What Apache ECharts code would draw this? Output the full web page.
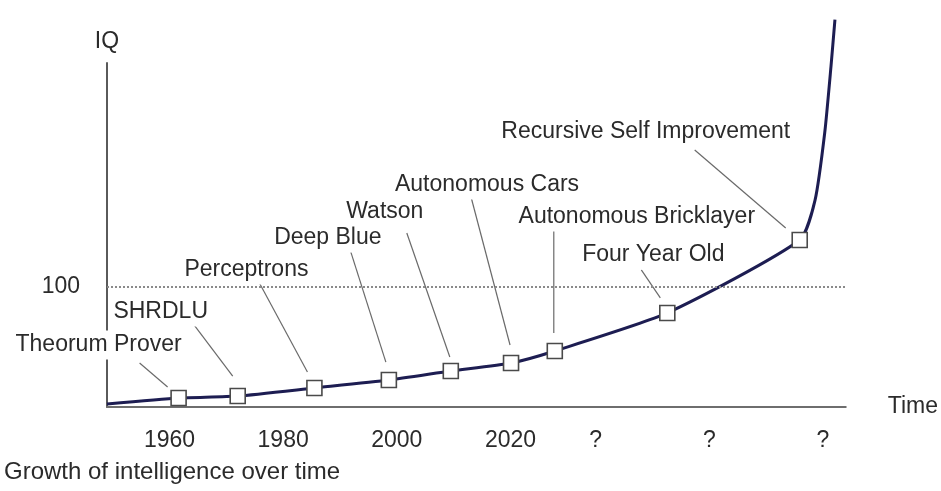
<!DOCTYPE html>
<html>
<head>
<meta charset="utf-8">
<title>Growth of intelligence over time</title>
<script src="https://cdn.jsdelivr.net/npm/echarts@6/dist/echarts.min.js"></script>
<style>
  html, body { margin: 0; padding: 0; background: #fff; }
  #chart { width: 941px; height: 491px; }
</style>
</head>
<body>
<div id="chart"></div>
<script>
// Milestones on the intelligence curve
const milestones = ['Theorum Prover', 'SHRDLU', 'Perceptrons', 'Deep Blue', 'Watson',
  'Autonomous Cars', 'Autonomous Bricklayer', 'Four Year Old', 'Recursive Self Improvement'];
const milestoneYears = [1961.6, 1972.0, 1985.5, 1998.6, 2009.5, 2020.1, 2027.8, 2047.6, 2070.9];
const milestoneIQ = [7.5, 9.1, 15.8, 22.4, 29.9, 36.6, 46.6, 78.2, 138.8];

// Start of the curve and its steep tail after self improvement
const headYears = [1949];
const headIQ = [2.5];
const tailYears = [2073.6, 2075.3, 2076.4, 2077.1];
const tailIQ = [172, 228, 283, 322];

// Time axis ticks
const tickYears = [1960, 1980, 2000, 2020, 2035, 2055, 2075];
const tickLabels = ['1960', '1980', '2000', '2020', '?', '?', '?'];

// Reference level
const humanIQ = 100;

// Label layout, in pixels relative to each milestone marker:
// label centre, leader end near the label, leader end near the marker
const labelOffset = [[-80, -53], [-77, -84], [-68, -118], [-61, -142], [-66, -159],
  [-24, -178], [82, -134], [-14, -58], [-154, -108]];
const leaderFar = [[-39, -35], [-45, -73], [-55, -105], [-38, -128], [-44, -138],
  [-40, -166], [-1, -121], [-26, -43], [-105, -90]];
const leaderNear = [[-11, -11], [-5, -20], [-7, -16], [-3, -18], [-1, -14],
  [-1, -18], [-1, -18], [-7, -15], [-14, -12]];

const FONT = '"Liberation Sans", Arial, sans-serif';
const TEXT = '#2b2b2b';

const curve = headYears.map((x, i) => [x, headIQ[i]])
  .concat(milestoneYears.map((x, i) => [x, milestoneIQ[i]]))
  .concat(tailYears.map((x, i) => [x, tailIQ[i]]));
const points = milestoneYears.map((x, i) => [x, milestoneIQ[i], milestones[i]]);

const chart = echarts.init(document.getElementById('chart'));
chart.setOption({
  animation: false,
  backgroundColor: '#fff',
  title: {
    text: 'Growth of intelligence over time',
    left: 4, top: 460, padding: 0,
    textStyle: { fontFamily: FONT, fontSize: 24, fontWeight: 'normal', color: TEXT }
  },
  grid: { left: 107, right: 93, top: 63, bottom: 84 },
  xAxis: {
    type: 'value', min: 1949, max: 2079,
    name: 'Time', nameLocation: 'end', nameGap: 42,
    nameTextStyle: { fontFamily: FONT, fontSize: 23, color: TEXT, verticalAlign: 'middle', padding: [8, 0, 0, 0] },
    axisLine: { show: true, lineStyle: { color: '#6e6e6e', width: 2 } },
    axisTick: { show: false },
    splitLine: { show: false },
    axisLabel: {
      customValues: tickYears,
      formatter: v => tickLabels[tickYears.indexOf(v)],
      margin: 22, fontFamily: FONT, fontSize: 23, color: TEXT
    }
  },
  yAxis: {
    type: 'value', min: 0, max: 286,
    name: 'IQ', nameLocation: 'end', nameGap: 10,
    nameTextStyle: { fontFamily: FONT, fontSize: 23, color: TEXT, align: 'center' },
    axisLine: { show: true, lineStyle: { color: '#5a5a5a', width: 2 } },
    axisTick: { show: false },
    splitLine: { show: false },
    axisLabel: {
      customValues: [humanIQ],
      margin: 27, fontFamily: FONT, fontSize: 23, color: TEXT
    }
  },
  series: [
    {
      type: 'line',
      data: curve,
      smooth: 0.2,
      clip: false,
      showSymbol: false,
      lineStyle: { color: '#1d1d52', width: 3 },
      z: 2,
      markLine: {
        silent: true,
        symbol: 'none',
        label: { show: false },
        lineStyle: { color: '#8a8a8a', type: [2, 2], width: 2 },
        data: [{ yAxis: humanIQ }]
      }
    },
    {
      type: 'custom',
      data: points,
      z: 4,
      renderItem: function (params, api) {
        const i = params.dataIndex;
        const p = api.coord([api.value(0), api.value(1)]);
        const near = leaderNear[i], far = leaderFar[i], lab = labelOffset[i];
        return {
          type: 'group',
          children: [
            {
              type: 'line',
              shape: { x1: p[0] + near[0], y1: p[1] + near[1], x2: p[0] + far[0], y2: p[1] + far[1] },
              style: { stroke: '#6a6a6a', lineWidth: 1.2 }
            },
            {
              type: 'text',
              style: {
                text: milestones[i],
                x: p[0] + lab[0], y: p[1] + lab[1],
                align: 'center', verticalAlign: 'middle',
                font: '23px ' + FONT,
                fill: TEXT,
                backgroundColor: '#fff',
                padding: [3, 2]
              }
            }
          ]
        };
      }
    },
    {
      type: 'scatter',
      data: points,
      symbol: 'rect',
      symbolSize: 15,
      itemStyle: { color: '#fff', borderColor: '#4a4a4a', borderWidth: 1.6, opacity: 1 },
      z: 5
    }
  ]
});
</script>
</body>
</html>
